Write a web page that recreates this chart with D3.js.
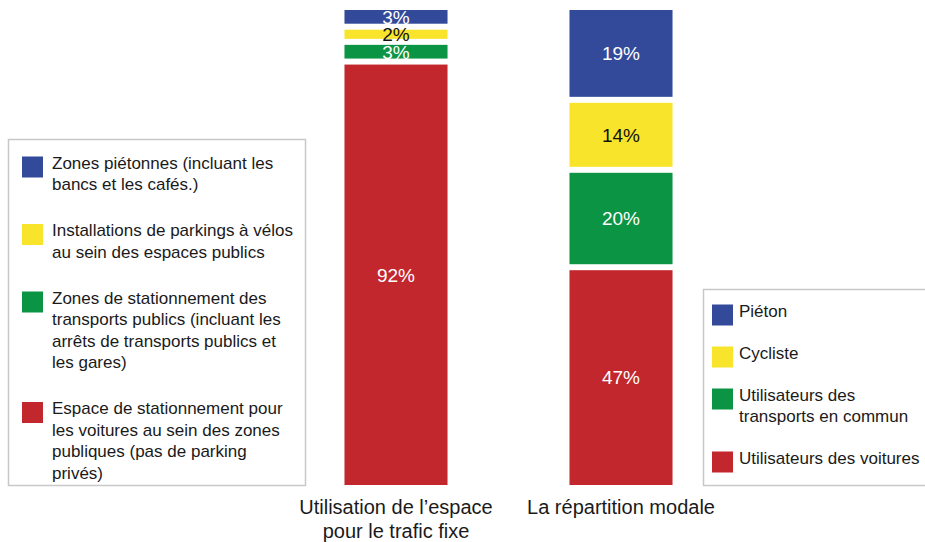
<!DOCTYPE html>
<html>
<head>
<meta charset="utf-8">
<script src="https://cdn.jsdelivr.net/npm/d3@7"></script>
<style>
    body { margin: 0; background: #fff; }
    svg { font-family: "Liberation Sans", Arial, sans-serif; }
</style>
</head>
<body>
<div id="chart"></div>
<script>
// categories (bottom -> top in the stack)
const bars = ["Utilisation de l\u2019espace|pour le trafic fixe", "La répartition modale"];
const segments = ["car", "transit", "bike", "walk"];
const spaceValues = [92, 3, 2, 3];
const modalValues = [47, 20, 14, 19];
const colors = ["#c1272d", "#0b9444", "#f8e52b", "#334a9a"];
const labelColors = ["#fff", "#fff", "#111", "#fff"];

const leftLegend = [
    ["Zones piétonnes (incluant les", "bancs et les cafés.)"],
    ["Installations de parkings à vélos", "au sein des espaces publics"],
    ["Zones de stationnement des", "transports publics (incluant les", "arrêts de transports publics et", "les gares)"],
    ["Espace de stationnement pour", "les voitures au sein des zones", "publiques (pas de parking", "privés)"]
];
const rightLegend = [
    ["Piéton"],
    ["Cycliste"],
    ["Utilisateurs des", "transports en commun"],
    ["Utilisateurs des voitures"]
];
// legend order is top -> bottom: walk, bike, transit, car
const legendColors = [colors[3], colors[2], colors[1], colors[0]];

const width = 925, height = 542;
const barTop = 10, barBottom = 485, gap = 6;

const svg = d3.select("#chart").append("svg")
    .attr("width", width)
    .attr("height", height);

// one row per bar
const table = bars.map((b, i) => {
    const vals = i === 0 ? spaceValues : modalValues;
    const row = {bar: b};
    segments.forEach((s, j) => row[s] = vals[j]);
    return row;
});

const stack = d3.stack().keys(segments);
const series = stack(table);

const x = d3.scaleBand()
    .domain(bars)
    .range([283.5, 733.5])
    .paddingInner(0.542)
    .paddingOuter(0.271);

// heights share the bar span minus the white gaps between segments
const h = d3.scaleLinear()
    .domain([0, 100])
    .range([0, (barBottom - barTop) - gap * (segments.length - 1)]);

const yOf = (v, k) => barBottom - h(v) - k * gap;

const layers = svg.append("g").selectAll("g")
    .data(series)
    .join("g")
    .attr("fill", (d, k) => colors[k]);

layers.selectAll("rect")
    .data(d => d.map(p => ({p, k: d.index})))
    .join("rect")
    .attr("x", d => x(d.p.data.bar))
    .attr("width", x.bandwidth())
    .attr("y", d => yOf(d.p[1], d.k))
    .attr("height", d => h(d.p[1]) - h(d.p[0]));

layers.selectAll("text")
    .data(d => d.map(p => ({p, k: d.index})))
    .join("text")
    .attr("x", d => x(d.p.data.bar) + x.bandwidth() / 2)
    .attr("y", d => (yOf(d.p[1], d.k) + yOf(d.p[0], d.k)) / 2)
    .attr("dy", "0.36em")
    .attr("text-anchor", "middle")
    .attr("font-size", 19)
    .attr("fill", d => labelColors[d.k])
    .text(d => (d.p[1] - d.p[0]) + "%");

// x axis: labels only
const xAxisG = svg.append("g")
    .attr("transform", `translate(0,${barBottom})`)
    .call(d3.axisBottom(x).tickSize(0).tickPadding(0).tickFormat(""));
xAxisG.select(".domain").remove();

xAxisG.selectAll(".tick").append("text")
    .attr("fill", "#1a1a1a")
    .attr("font-size", 20)
    .attr("text-anchor", "middle")
    .selectAll("tspan")
    .data(d => d.split("|"))
    .join("tspan")
    .attr("x", 0)
    .attr("y", (d, i) => 29 + i * 24)
    .text(d => d);

function drawLegend(items, box, opts) {
    const g = svg.append("g");
    g.append("rect")
        .attr("x", box.x).attr("y", box.y)
        .attr("width", box.w).attr("height", box.h)
        .attr("fill", "#fff")
        .attr("stroke", "#c8c8c8")
        .attr("stroke-width", 1.5);

    let cy = opts.firstLine;
    items.forEach((lines, i) => {
        g.append("rect")
            .attr("x", opts.swatchX)
            .attr("y", cy + 4 - 10.5)
            .attr("width", 21).attr("height", 21)
            .attr("fill", legendColors[i]);
        g.append("text")
            .attr("font-size", 17)
            .attr("fill", "#1a1a1a")
            .selectAll("tspan")
            .data(lines)
            .join("tspan")
            .attr("x", opts.textX)
            .attr("y", (d, j) => cy + j * opts.lineH)
            .attr("dy", "0.35em")
            .text(d => d);
        cy += (lines.length - 1) * opts.lineH + opts.groupGap;
    });
}

drawLegend(leftLegend, {x: 8.5, y: 139.5, w: 297, h: 346},
    {firstLine: 163, lineH: 21.5, groupGap: 46, swatchX: 22, textX: 52});
drawLegend(rightLegend, {x: 703.5, y: 289.5, w: 240, h: 196},
    {firstLine: 311, lineH: 21, groupGap: 42, swatchX: 712, textX: 739});
</script>
</body>
</html>
